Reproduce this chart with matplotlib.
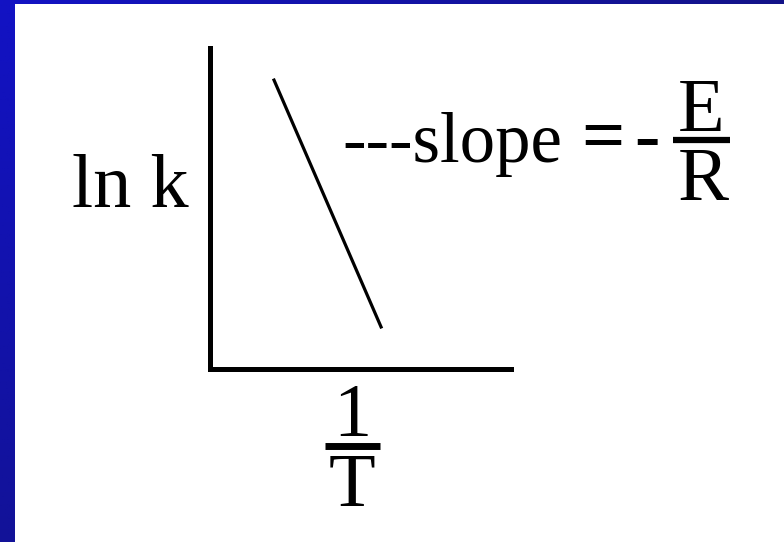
import numpy as np
import matplotlib.pyplot as plt

# Arrhenius sketch: ln k against 1/T, straight line of slope -E/R
inv_T = [0.214, 0.569]
ln_k = [0.900, 0.131]

y_label = "ln k"
x_num, x_den = "1", "T"
slope_word = "---slope"
slope_num, slope_den = "E", "R"

W, H = 784, 542
fig = plt.figure(figsize=(W / 100, H / 100), dpi=100)
fig.patch.set_facecolor("white")

# background layer in pixel units for the frame and the labels
bg = fig.add_axes([0, 0, 1, 1])
bg.set_xlim(0, W)
bg.set_ylim(H, 0)
bg.axis("off")

# blue slide border: left strip fades darker downwards, top strip to the right
left = np.linspace(0, 1, 256).reshape(-1, 1)
c_top = np.array([0x12, 0x12, 0xc4]) / 255
c_bot = np.array([0x12, 0x12, 0x98]) / 255
left_rgb = c_top + left[..., None] * (c_bot - c_top)
bg.imshow(left_rgb, extent=[0, 15, H, 0], aspect="auto", zorder=0)
top = np.linspace(0, 1, 256).reshape(1, -1)
c_right = np.array([0x12, 0x12, 0x88]) / 255
top_rgb = c_top + top[..., None] * (c_right - c_top)
bg.imshow(top_rgb, extent=[0, W, 4, 0], aspect="auto", zorder=0)
bg.set_xlim(0, W)
bg.set_ylim(H, 0)

serif = ["Liberation Serif", "DejaVu Serif"]
font = dict(family=serif, size=55, color="black")

bg.text(130, 207, y_label, ha="center", va="baseline", **font)

# "---slope = - E/R" set piece by piece to keep it compact
bg.text(342, 162, slope_word, ha="left", va="baseline",
        family=serif, size=51, color="black")
bg.text(603, 160, "=", ha="center", va="baseline", fontweight="bold", **font)
bg.text(647, 160, "-", ha="center", va="baseline", fontweight="bold", **font)

# fraction E/R
bg.text(701, 131, slope_num, ha="center", va="baseline", **font)
bg.plot([673, 730], [140, 140], color="black", lw=4.5, solid_capstyle="butt")
bg.text(703, 200, slope_den, ha="center", va="baseline", **font)

# fraction 1/T under the x axis
bg.text(352, 436, x_num, ha="center", va="baseline", **font)
bg.plot([325, 380], [445.5, 445.5], color="black", lw=5, solid_capstyle="butt")
bg.text(352, 506, x_den, ha="center", va="baseline", **font)

# the plot itself
ax = fig.add_axes([209.5 / W, 1 - 369 / H, (511 - 209.5) / W, (369 - 48) / H])
ax.patch.set_alpha(0)
ax.plot(inv_T, ln_k, color="black", lw=2.3)
ax.set_xlim(0, 1)
ax.set_ylim(0, 1)
for side in ("top", "right"):
    ax.spines[side].set_visible(False)
for side in ("left", "bottom"):
    ax.spines[side].set_linewidth(3.6)
    ax.spines[side].set_capstyle("projecting")
ax.set_xticks([])
ax.set_yticks([])

fig.savefig("out.png", dpi=100, facecolor="white")
